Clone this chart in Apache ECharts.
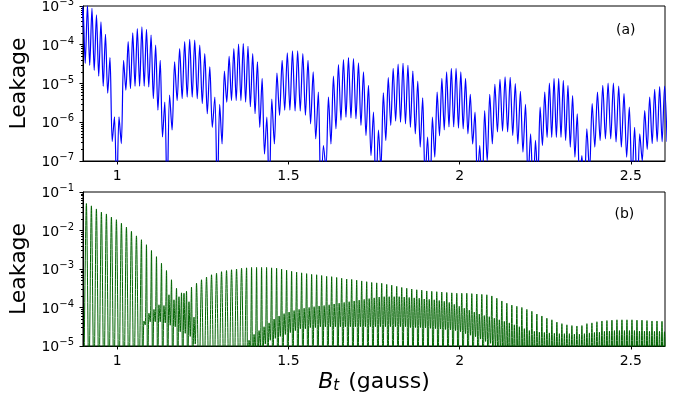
<!DOCTYPE html>
<html><head><meta charset="utf-8">
<script src="https://cdn.jsdelivr.net/npm/echarts@6/dist/echarts.min.js"></script>
<style>html,body{margin:0;padding:0;background:#fff}#c{width:682px;height:403px}</style>
</head><body><div id="c"></div>
<script>
// ---------- axis ticks ----------
const xTickValues = [1, 1.5, 2, 2.5];
const topDecades = [-7, -6, -5, -4, -3];
const bottomDecades = [-5, -4, -3, -2, -1];
const minorMultipliers = [2, 3, 4, 5, 6, 7, 8, 9];

// ---------- panel (a): lobes between deep nulls (log10 of leakage) ----------
const topLobeEdges = [0.8933, 0.9985, 1.1456, 1.2924, 1.4439, 1.5950, 1.7558, 1.9137, 2.0658, 2.2149, 2.3640, 2.5190, 2.6061];
const topEdgeLog = [-4.4, -8, -8, -8, -8, -8, -8, -8, -8, -8, -8, -8, -6.5];
const topPeakLog = [
  [-3.0, -2.98, -3.06, -3.23, -3.41, -3.73, -4.33, -5.86],
  [-5.86, -4.40, -3.92, -3.69, -3.58, -3.54, -3.60, -3.75, -4.01, -4.40, -5.48],
  [-5.3, -4.44, -4.10, -3.92, -3.86, -3.88, -4.01, -4.23, -4.57, -5.35],
  [-5.54, -4.68, -4.30, -4.10, -3.98, -3.97, -4.04, -4.23, -4.44, -4.87, -5.87],
  [-5.40, -4.73, -4.40, -4.21, -4.16, -4.16, -4.23, -4.40, -4.70, -5.22],
  [-6.6, -5.35, -4.81, -4.51, -4.38, -4.33, -4.36, -4.47, -4.70, -5.05, -5.74],
  [-6.2, -5.24, -4.85, -4.61, -4.50, -4.48, -4.53, -4.68, -4.94, -5.37, -6.38],
  [-5.87, -5.22, -4.87, -4.70, -4.61, -4.61, -4.70, -4.87, -5.28, -5.74, -6.6],
  [-5.7, -5.28, -5.02, -4.89, -4.83, -4.84, -5.0, -5.2, -5.54, -6.3],
  [-6.47, -5.61, -5.22, -4.99, -4.87, -4.87, -4.92, -5.05, -5.31, -5.78, -6.86],
  [-6.17, -5.52, -5.22, -5.05, -4.99, -4.99, -5.07, -5.26, -5.61, -6.13],
  [-6.3, -5.7, -5.35, -5.15, -5.08, -5.07]
];
const topTroughLog = [
  [-4.48, -4.53, -4.66, -4.81, -5.07, -5.25, -6.5],
  [-6.55, -5.17, -5.13, -5.07, -5.07, -5.07, -5.09, -5.39, -5.69, -6.38],
  [-6.2, -5.44, -5.39, -5.35, -5.35, -5.39, -5.52, -5.78, -6.13],
  [-6.56, -5.48, -5.44, -5.44, -5.44, -5.48, -5.6, -5.78, -6.13, -6.82],
  [-6.56, -5.82, -5.69, -5.69, -5.71, -5.71, -5.82, -6.04, -6.43],
  [-7.2, -6.56, -6.17, -5.95, -5.87, -5.89, -5.91, -6.08, -6.34, -6.86],
  [-7.2, -6.47, -6.08, -5.97, -6.0, -6.04, -6.13, -6.3, -6.64, -7.5],
  [-6.9, -6.35, -6.2, -6.12, -6.12, -6.15, -6.17, -6.3, -6.56, -7.5],
  [-7.0, -6.56, -6.25, -6.23, -6.25, -6.34, -6.56, -6.77, -7.5],
  [-7.5, -6.6, -6.39, -6.39, -6.39, -6.39, -6.47, -6.64, -6.9, -7.5],
  [-7.3, -6.64, -6.47, -6.43, -6.43, -6.51, -6.64, -6.9, -7.5],
  [-7.0, -6.7, -6.55, -6.5, -6.5]
];

// ---------- panel (b): one oscillation per step (log10 of leakage) ----------
const bottomStartX = 0.9099;
const bottomStepX = 0.01462;
const bottomNullLog = -6;
const bottomPeakLog = [
  -1.30,-1.36,-1.44,-1.52,-1.57,-1.65,-1.72,-1.81,-1.91,-2.02,
  -2.14,-2.24,-2.37,-2.52,-2.68,-2.85,-3.04,-3.28,-3.50,-3.62,
  -3.58,-3.47,-3.37,-3.28,-3.21,-3.15,-3.11,-3.07,-3.04,-3.02,
  -3.00,-2.98,-2.97,-2.96,-2.96,-2.96,-2.96,-2.97,-2.98,-3.00,
  -3.03,-3.06,-3.08,-3.10,-3.12,-3.14,-3.15,-3.17,-3.19,-3.20,
  -3.22,-3.24,-3.26,-3.27,-3.29,-3.31,-3.33,-3.35,-3.36,-3.37,
  -3.40,-3.42,-3.45,-3.48,-3.50,-3.52,-3.54,-3.55,-3.57,-3.58,
  -3.59,-3.60,-3.61,-3.62,-3.63,-3.63,-3.63,-3.64,-3.65,-3.66,
  -3.67,-3.70,-3.76,-3.83,-3.89,-3.94,-3.97,-4.00,-4.05,-4.10,
  -4.17,-4.22,-4.28,-4.32,-4.38,-4.42,-4.45,-4.47,-4.48,-4.47,
  -4.42,-4.40,-4.37,-4.35,-4.34,-4.33,-4.32,-4.32,-4.32,-4.32,
  -4.33,-4.33,-4.34,-4.35,-4.35,-4.36
];
const bottomSecondPeakLog = [
  null,null,null,null,null,null,null,null,null,null,
  null,-4.35,-4.15,-4.05,-3.93,-3.95,-3.67,-3.80,-3.72,-3.63,
  -3.85,-4.25,null,null,null,null,null,null,null,null,
  null,null,-4.85,-4.70,-4.60,-4.50,-4.40,-4.30,-4.22,-4.16,
  -4.12,-4.08,-4.05,-4.02,-4.00,-3.98,-3.96,-3.95,-3.93,-3.91,
  -3.89,-3.87,-3.85,-3.83,-3.81,-3.79,-3.77,-3.75,-3.73,-3.72,
  -3.72,-3.72,-3.72,-3.73,-3.74,-3.75,-3.76,-3.78,-3.79,-3.80,
  -3.82,-3.84,-3.87,-3.92,-3.97,-4.02,-4.07,-4.12,-4.17,-4.21,
  -4.24,-4.28,-4.32,-4.36,-4.40,-4.45,-4.50,-4.55,-4.60,-4.62,
  -4.64,-4.65,-4.66,-4.67,-4.68,-4.68,-4.68,-4.69,-4.69,-4.68,
  -4.66,-4.65,-4.64,-4.62,-4.61,-4.60,-4.60,-4.60,-4.60,-4.60,
  -4.61,-4.61,-4.62,-4.62,-4.62,-4.63
];
const bottomSecondTroughLog = [
  null,null,null,null,null,null,null,null,null,null,
  null,-4.45,-4.37,-4.37,-4.37,-4.40,-4.46,-4.50,-4.63,-4.67,
  -4.75,-4.95,null,null,null,null,null,null,null,null,
  null,null,-5.20,-5.10,-5.00,-4.95,-4.85,-4.80,-4.75,-4.70,
  -4.65,-4.60,-4.55,-4.55,-4.52,-4.52,-4.50,-4.50,-4.50,-4.50,
  -4.50,-4.50,-4.50,-4.50,-4.50,-4.50,-4.50,-4.50,-4.50,-4.50,
  -4.50,-4.50,-4.50,-4.50,-4.52,-4.52,-4.52,-4.53,-4.54,-4.55,
  -4.56,-4.57,-4.58,-4.60,-4.63,-4.68,-4.72,-4.76,-4.82,-4.88,
  -4.93,-5.00,-5.10,-5.30,null,null,null,null,null,null,
  null,null,null,null,null,null,null,null,null,null,
  null,null,null,null,null,null,null,null,null,null,
  null,null,null,null,null,null
];

// ---------- build series data ----------
const p10 = v => Math.pow(10, v);
const topData = [];
for (let i = 0; i < topPeakLog.length; i++) {
  const a = topLobeEdges[i], b = topLobeEdges[i + 1];
  const n = topPeakLog[i].length, w = (b - a) / n;
  topData.push([a, p10(topEdgeLog[i])]);
  for (let j = 0; j < n; j++) {
    topData.push([a + (j + 0.5) * w, p10(topPeakLog[i][j])]);
    if (j < n - 1) topData.push([a + (j + 1) * w, p10(topTroughLog[i][j])]);
  }
}
topData.push([topLobeEdges[topLobeEdges.length - 1], p10(topEdgeLog[topEdgeLog.length - 1])]);

const bottomData = [[bottomStartX - 0.5 * bottomStepX, p10(bottomNullLog)]];
for (let k = 0; k < bottomPeakLog.length; k++) {
  const x = bottomStartX + k * bottomStepX;
  bottomData.push([x, p10(bottomPeakLog[k])]);
  if (bottomSecondPeakLog[k] === null) {
    bottomData.push([x + 0.5 * bottomStepX, p10(bottomNullLog)]);
  } else {
    bottomData.push([x + 0.25 * bottomStepX, p10(bottomNullLog)]);
    bottomData.push([x + 0.5 * bottomStepX, p10(bottomSecondPeakLog[k])]);
    const t2 = bottomSecondTroughLog[k] === null ? bottomNullLog : bottomSecondTroughLog[k];
    bottomData.push([x + 0.75 * bottomStepX, p10(t2)]);
  }
}

const minorLog = decs => {
  const out = [];
  for (let i = 0; i < decs.length - 1; i++) for (const m of minorMultipliers) out.push(decs[i] + Math.log10(m));
  return out;
};

// ---------- styles ----------
const FONT = 'DejaVu Sans';
const yLabel = {
  color: '#000', margin: 9, showMinLabel: true, showMaxLabel: true,
  formatter: v => '{b|10}{s|\u2212' + Math.abs(Math.round(Math.log10(v))) + '}',
  rich: {
    b: { fontSize: 14, lineHeight: 17, verticalAlign: 'bottom', color: '#000', fontFamily: FONT },
    s: { fontSize: 10, lineHeight: 10, verticalAlign: 'top', color: '#000', fontFamily: FONT }
  }
};
const axisLine = { show: true, lineStyle: { color: '#000', width: 1 } };
function xAxis(gi, withName) {
  const ax = {
    type: 'value', gridIndex: gi, min: 0.9, max: 2.6,
    axisLine: axisLine,
    axisTick: { show: true, customValues: xTickValues, length: 3.5, lineStyle: { color: '#000', width: 1 } },
    axisLabel: { customValues: xTickValues, color: '#000', fontSize: 14, lineHeight: 17, margin: 7, fontFamily: FONT },
    splitLine: { show: false }
  };
  if (withName) {
    ax.name = '{i|B}{t|t}{n| (gauss)}';
    ax.nameLocation = 'middle';
    ax.nameGap = 25;
    ax.nameTextStyle = {
      rich: {
        i: { fontSize: 22, fontStyle: 'italic', lineHeight: 23, verticalAlign: 'top', color: '#000', fontFamily: FONT },
        t: { fontSize: 15, fontStyle: 'italic', lineHeight: 15, verticalAlign: 'bottom', color: '#000', fontFamily: FONT },
        n: { fontSize: 22, lineHeight: 23, verticalAlign: 'top', color: '#000', fontFamily: FONT, padding: [0, 0, 0, 2] }
      }
    };
  }
  return ax;
}
function logAxis(gi, decs) {
  return {
    type: 'log', logBase: 10, gridIndex: gi, position: 'left', min: p10(decs[0]), max: p10(decs[decs.length - 1]),
    axisLine: axisLine,
    axisTick: { show: true, length: 3.5, lineStyle: { color: '#000', width: 1 } },
    axisLabel: yLabel,
    splitLine: { show: false },
    minorTick: { show: false },
    name: 'Leakage', nameLocation: 'middle', nameGap: 43,
    nameTextStyle: { fontSize: 22, color: '#000', fontFamily: FONT }
  };
}
function minorAxis(gi, decs) {
  return {
    type: 'value', gridIndex: gi, position: 'left', offset: 0, min: decs[0], max: decs[decs.length - 1],
    axisLine: { show: false },
    axisLabel: { show: false },
    splitLine: { show: false },
    axisTick: { show: true, customValues: minorLog(decs), length: 2, lineStyle: { color: '#000', width: 1 } }
  };
}

const chart = echarts.init(document.getElementById('c'), null, { renderer: 'canvas' });
chart.setOption({
  animation: false,
  backgroundColor: '#fff',
  textStyle: { fontFamily: FONT },
  grid: [
    { left: 83, top: 6, width: 582, height: 155, show: true, borderColor: '#000', borderWidth: 1, containLabel: false, outerBoundsMode: 'none' },
    { left: 83, top: 192, width: 582, height: 154, show: true, borderColor: '#000', borderWidth: 1, containLabel: false, outerBoundsMode: 'none' }
  ],
  xAxis: [xAxis(0, false), xAxis(1, true)],
  yAxis: [logAxis(0, topDecades), minorAxis(0, topDecades), logAxis(1, bottomDecades), minorAxis(1, bottomDecades)],
  graphic: [
    { type: 'text', x: 616, y: 23, style: { text: '(a)', font: '14px "DejaVu Sans"', fill: '#000' } },
    { type: 'text', x: 614.5, y: 207, style: { text: '(b)', font: '14px "DejaVu Sans"', fill: '#000' } }
  ],
  series: [
    { type: 'line', xAxisIndex: 0, yAxisIndex: 0, data: topData, showSymbol: false, symbol: 'none',
      smooth: 0.3, clip: true, silent: true, lineStyle: { color: '#0000ff', width: 1.2 } },
    { type: 'line', xAxisIndex: 1, yAxisIndex: 2, data: bottomData, showSymbol: false, symbol: 'none',
      smooth: 0.3, clip: true, silent: true, lineStyle: { color: '#006400', width: 1 } }
  ]
});
</script></body></html>
